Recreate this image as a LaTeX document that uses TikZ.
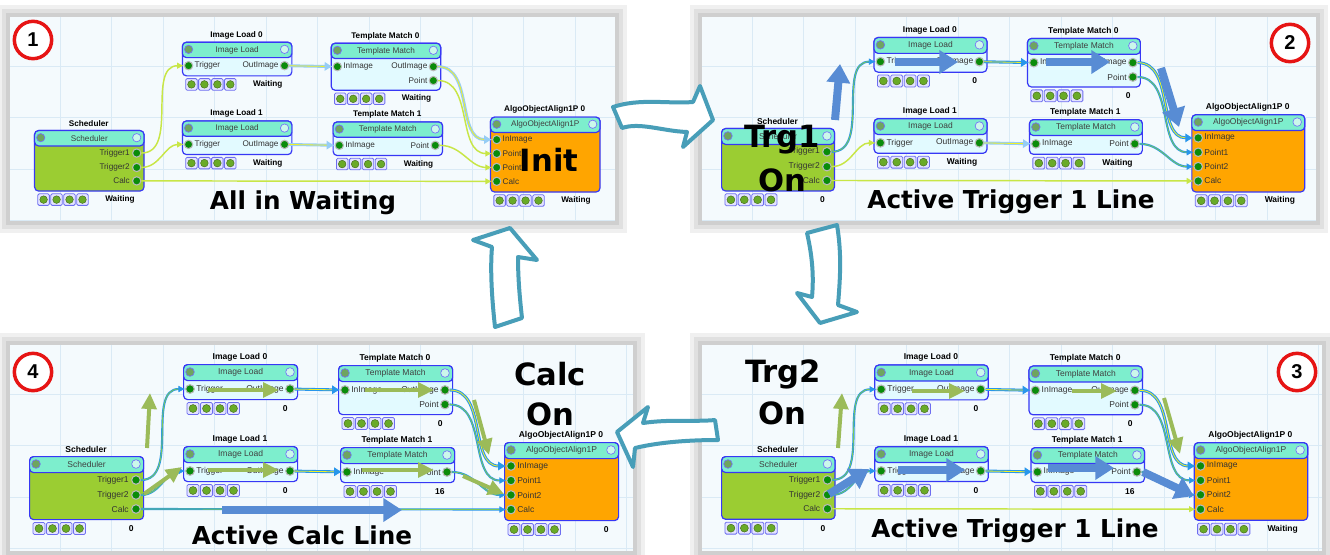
\documentclass[tikz,border=0pt]{standalone}
\usepackage{fontspec}
\setmainfont{Liberation Sans}
\newfontfamily\heavyfont{DejaVu Sans}
\usepackage{tikz}
\usetikzlibrary{arrows.meta}

\definecolor{panelbg}{RGB}{244,250,253}
\definecolor{gridcol}{RGB}{218,234,245}
\definecolor{blkblue}{RGB}{55,55,245}
\definecolor{hdrcol}{RGB}{125,238,205}
\definecolor{cyanbody}{RGB}{226,250,255}
\definecolor{schgreen}{RGB}{155,205,50}
\definecolor{algoorange}{RGB}{255,165,0}
\definecolor{portgreen}{RGB}{10,140,10}
\definecolor{idlecol}{RGB}{200,230,70}
\definecolor{actblue}{RGB}{40,150,235}
\definecolor{actgreen}{RGB}{120,200,90}
\definecolor{imgidle}{RGB}{150,205,245}
\definecolor{imgyel}{RGB}{240,240,40}
\definecolor{cyccol}{RGB}{72,158,184}
\definecolor{ovblue}{RGB}{88,140,212}
\definecolor{ovgreen}{RGB}{155,187,89}
\definecolor{numred}{RGB}{230,20,20}
\definecolor{btnblue}{RGB}{110,110,240}
\definecolor{btnfill}{RGB}{228,228,255}
\definecolor{btngreen}{RGB}{105,170,40}
\definecolor{iconfill}{RGB}{110,165,95}

\newcommand\uifont{\fontsize{6.4pt}{7pt}\selectfont}

% one block: name, left, top, height (px), body colour, header text, title
\newcommand\blk[7]{%
  \node[body, fill=#5, minimum height=#4*0.75pt] (#1) at (#2,#3) {};
  \node[head] (#1-h) at (#2,#3) {#6};
  \node[minus] (#1-m) at (#2+7,#3+8) {};
  \node[opt] (#1-o) at (#2+107,#3+8) {};
  \node[ttl] (#1-t) at (#2+57,#3-7) {#7};
}
% button row under a block: left, centre line, status, name
\newcommand\btns[4]{%
  \foreach \k in {0,...,3}{
    \node[btn] (#4-b\k) at (#1+10+13.5*\k,#2) {};
    \node[btnc] (#4-c\k) at (#1+10+13.5*\k,#2) {};
  }
  \node[stat] (#4-s) at (#1+105,#2) {#3};
}
% all blocks of a panel: prefix, then the six status texts
\newcommand\blocks[7]{%
  \blk{#1-sch}{0}{0}{63}{schgreen}{Scheduler}{Scheduler}
  \blk{#1-il0}{154}{-92}{35}{cyanbody}{Image Load}{Image Load 0}
  \blk{#1-il1}{154}{-10}{35}{cyanbody}{Image Load}{Image Load 1}
  \blk{#1-tm0}{309}{-91}{49}{cyanbody}{Template Match}{Template Match 0}
  \blk{#1-tm1}{311}{-9}{35}{cyanbody}{Template Match}{Template Match 1}
  \blk{#1-algo}{475}{-14}{78}{algoorange}{AlgoObjectAlign1P}{AlgoObjectAlign1P 0}
  % ports
  \node[port] (#1-sch-t1) at (107,24) {};
  \node[port] (#1-sch-t2) at (107,39) {};
  \node[port] (#1-sch-c)  at (107,53) {};
  \node[lblr] (#1-sch-l1) at (100,24) {Trigger1};
  \node[lblr] (#1-sch-l2) at (100,39) {Trigger2};
  \node[lblr] (#1-sch-l3) at (100,53) {Calc};
  \node[port] (#1-il0-in)  at (161,-67) {};
  \node[port] (#1-il0-out) at (261,-67) {};
  \node[lbll] (#1-il0-l1)  at (167,-67) {Trigger};
  \node[lblr] (#1-il0-l2)  at (255,-67) {OutImage};
  \node[port] (#1-il1-in)  at (161,15) {};
  \node[port] (#1-il1-out) at (261,15) {};
  \node[lbll] (#1-il1-l1)  at (167,15) {Trigger};
  \node[lblr] (#1-il1-l2)  at (255,15) {OutImage};
  \node[port] (#1-tm0-in)  at (316,-66) {};
  \node[port] (#1-tm0-out) at (416,-66) {};
  \node[port] (#1-tm0-pt)  at (416,-51.5) {};
  \node[lbll] (#1-tm0-l1)  at (322,-66) {InImage};
  \node[lblr] (#1-tm0-l2)  at (410,-66) {OutImage};
  \node[lblr] (#1-tm0-l3)  at (410,-51.5) {Point};
  \node[port] (#1-tm1-in)  at (318,16) {};
  \node[port] (#1-tm1-pt)  at (418,16) {};
  \node[lbll] (#1-tm1-l1)  at (324,16) {InImage};
  \node[lblr] (#1-tm1-l2)  at (412,16) {Point};
  \node[port] (#1-algo-in) at (482,10) {};
  \node[port] (#1-algo-p1) at (482,24.5) {};
  \node[port] (#1-algo-p2) at (482,39) {};
  \node[port] (#1-algo-c)  at (482,53.5) {};
  \node[lbll] (#1-algo-l1) at (488,10) {InImage};
  \node[lbll] (#1-algo-l2) at (488,24.5) {Point1};
  \node[lbll] (#1-algo-l3) at (488,39) {Point2};
  \node[lbll] (#1-algo-l4) at (488,53.5) {Calc};
  % button rows
  \btns{0}{72.5}{#2}{#1-sch}
  \btns{154}{-47.5}{#3}{#1-il0}
  \btns{154}{34.5}{#4}{#1-il1}
  \btns{309}{-32.5}{#5}{#1-tm0}
  \btns{311}{35.5}{#6}{#1-tm1}
  \btns{475}{73.5}{#7}{#1-algo}
}
% the eight links of a panel: prefix, then one style per link
\newcommand\wires[9]{%
  \draw[#2] (#1-sch-t1) to[out=0,in=180] (#1-il0-in);
  \draw[#3] (#1-sch-t2) to[out=0,in=180] (#1-il1-in);
  \draw[#4] (#1-sch-c) -- (#1-algo-c);
  \draw[#5] (#1-il0-out) -- (#1-tm0-in);
  \draw[#6] (#1-il1-out) -- (#1-tm1-in);
  \draw[#7] (#1-tm0-out) to[out=0,in=180] (#1-algo-in);
  \draw[#8] (#1-tm0-pt) to[out=0,in=180] (#1-algo-p1);
  \draw[#9] (#1-tm1-pt) to[out=0,in=180] (#1-algo-p2);
}

\begin{document}
\begin{tikzpicture}[x=0.75pt, y=-0.75pt,
    body/.style   = {anchor=north west, draw=blkblue, line width=0.9pt,
                     rounded corners=3pt, minimum width=85.5pt, inner sep=0pt},
    head/.style   = {anchor=north west, draw=blkblue, line width=0.9pt, fill=hdrcol,
                     rounded corners=3pt, minimum width=85.5pt, minimum height=12pt,
                     inner sep=0pt, font=\uifont, text=black!75},
    minus/.style  = {circle, draw=blkblue!70, line width=0.5pt, fill=iconfill,
                     minimum size=6.5pt, inner sep=0pt},
    opt/.style    = {circle, draw=blkblue!70, line width=0.5pt, fill=hdrcol!40!white,
                     minimum size=6.5pt, inner sep=0pt},
    ttl/.style    = {font=\uifont\bfseries, inner sep=0pt},
    port/.style   = {circle, draw=gray!55, line width=0.8pt, fill=portgreen,
                     minimum size=6.5pt, inner sep=0pt},
    lbll/.style   = {anchor=west, font=\uifont, text=black!80, inner sep=0pt},
    lblr/.style   = {anchor=east, font=\uifont, text=black!80, inner sep=0pt},
    btn/.style    = {draw=btnblue, line width=0.6pt, fill=btnfill, rounded corners=1pt,
                     minimum size=9pt, inner sep=0pt},
    btnc/.style   = {circle, draw=btngreen!60!black, line width=0.3pt, fill=btngreen,
                     minimum size=6pt, inner sep=0pt},
    stat/.style   = {anchor=east, font=\uifont\bfseries, inner sep=0pt},
    idle/.style   = {draw=idlecol, line width=1.1pt, -{Latex[length=5pt,width=5pt]}},
    act/.style    = {draw=actblue, double=actgreen, line width=0.5pt, double distance=0.6pt,
                     -{Latex[length=5pt,width=5pt]}},
    imgoff/.style = {draw=imgidle, double=imgyel, line width=0.8pt, double distance=0.6pt,
                     -{Latex[length=6pt,width=7pt]}},
    imgon/.style  = {draw=actblue, double=imgyel, line width=0.8pt, double distance=0.6pt,
                     -{Latex[length=6pt,width=7pt]}},
    gridline/.style = {draw=gridcol, line width=0.5pt},
    numc/.style   = {circle, draw=numred, line width=2.6pt, fill=white, minimum size=28pt,
                     inner sep=0pt, font=\fontsize{15pt}{15pt}\selectfont\bfseries},
    captxt/.style = {font=\heavyfont\bfseries\fontsize{18.5pt}{20pt}\selectfont},
    ovtxt/.style  = {font=\heavyfont\bfseries\fontsize{23pt}{24pt}\selectfont},
    bluearr/.style = {draw=ovblue, line width=6pt, -{Triangle[length=14pt,width=17pt]}},
    grnarr/.style  = {draw=ovgreen, line width=3pt, -{Triangle[length=12pt,width=11pt]}},
    cyc/.style    = {draw=cyccol, line width=3pt, fill=white, line join=round},
  ]
  \useasboundingbox (0,0) rectangle (1330,554);
  \fill[white] (0,0) rectangle (1330,554);

  % panel frames with shadow and grid
  \foreach \px/\py/\qx/\qy in {10/17/615/221, 702/17/1316/221, 702/345/1322/551, 10/345/633/551}{
    \fill[gray!12] (\px-12,\py-12) rectangle (\qx+12,\qy+12);
    \fill[gray!24] (\px-8,\py-8) rectangle (\qx+8,\qy+8);
    \fill[gray!38] (\px-4,\py-4) rectangle (\qx+4,\qy+4);
    \fill[panelbg] (\px,\py) rectangle (\qx,\qy);
    \begin{scope}
      \clip (\px,\py) rectangle (\qx,\qy);
      \foreach \gx in {50,101.5,...,650} \draw[gridline] (\px+\gx,\py) -- (\px+\gx,\qy);
      \foreach \gy in {49,100.5,...,220} \draw[gridline] (\px,\py+\gy) -- (\qx,\py+\gy);
    \end{scope}
  }

  % 1: all in waiting
  \begin{scope}[shift={(34,130)}, scale=0.96, transform shape]
    \blocks{a}{Waiting}{Waiting}{Waiting}{Waiting}{Waiting}{Waiting}
    \wires{a}{idle}{idle}{idle}{imgoff}{imgoff}{imgoff}{idle}{idle}
  \end{scope}
  % 2: trigger 1 on
  \begin{scope}[shift={(721,128)}, scale=0.99, transform shape]
    \blocks{b}{0}{0}{Waiting}{0}{Waiting}{Waiting}
    \wires{b}{act}{idle}{idle}{imgon}{imgoff}{imgon}{act}{act}
  \end{scope}
  % 3: trigger 2 on
  \begin{scope}[shift={(721,456)}, scale=0.995, transform shape]
    \blocks{c}{0}{0}{0}{0}{16}{Waiting}
    \wires{c}{act}{act}{idle}{imgon}{imgon}{imgon}{act}{act}
  \end{scope}
  % 4: calc on
  \begin{scope}[shift={(29,456)}, transform shape]
    \blocks{d}{0}{0}{0}{0}{16}{0}
    \wires{d}{act}{act}{act}{imgon}{imgon}{imgon}{act}{act}
  \end{scope}

  % step numbers
  \node[numc] (n1) at (33,40) {1};
  \node[numc] (n2) at (1290,43) {2};
  \node[numc] (n3) at (1297,372) {3};
  \node[numc] (n4) at (33,372) {4};

  % flow arrows drawn over the panels
  \draw[bluearr] (835,120) -- (840,64);
  \draw[bluearr] (895,62) -- (958,62);
  \draw[bluearr] (1046,62) -- (1110,62);
  \draw[bluearr] (1161,68) -- (1179,127);

  \draw[grnarr] (838,448) -- (842,393);
  \draw[grnarr] (912,391) -- (965,391);
  \draw[grnarr] (1072,391) -- (1117,391);
  \draw[grnarr] (1164,398) -- (1180,454);
  \draw[bluearr] (829,494) -- (869,469);
  \draw[bluearr] (898,470) -- (965,470);
  \draw[bluearr] (1048,468) -- (1114,468);
  \draw[bluearr] (1143,472) -- (1194,496);

  \draw[grnarr] (147,448) -- (150,393);
  \draw[grnarr] (144,494) -- (182,467);
  \draw[grnarr] (208,390) -- (279,390);
  \draw[grnarr] (208,470) -- (279,470);
  \draw[grnarr] (365,390) -- (434,390);
  \draw[grnarr] (362,470) -- (434,470);
  \draw[grnarr] (474,400) -- (489,455);
  \draw[grnarr] (463,476) -- (504,494);
  \draw[bluearr] (222,510) -- (402,510);

  % captions
  \node[captxt] (cap1) at (303,203) {All in Waiting};
  \node[captxt] (cap2) at (1011,202) {Active Trigger 1 Line};
  \node[captxt] (cap3) at (1015,531) {Active Trigger 1 Line};
  \node[captxt] (cap4) at (302,535) {Active Calc Line};
  \node[ovtxt] (init) at (549,160) {Init};
  \node[ovtxt] (trg1) at (782,140) {Trg1};
  \node[ovtxt] (on1)  at (782,180) {On};
  \node[ovtxt] (trg2) at (783,374) {Trg2};
  \node[ovtxt] (on2)  at (782,413) {On};
  \node[ovtxt] (calc) at (550,374) {Calc};
  \node[ovtxt] (on3)  at (550,414) {On};

  % cycle arrows between the panels
  \draw[cyc] (613,107) .. controls (640,98) and (668,104) .. (693,102) -- (700,86)
    -- (713,120) -- (683,147) -- (687,132) .. controls (662,131) and (640,122) .. (622,128) -- cycle;
  \draw[cyc] (807,233) -- (837,225) .. controls (842,255) and (840,280) .. (838,305)
    -- (857,312) -- (820,323) -- (797,293) -- (812,297) .. controls (814,275) and (812,255) .. cycle;
  \draw[cyc] (617,432) -- (648,407) -- (643,423) .. controls (670,419) and (695,422) .. (715,420)
    -- (718,440) .. controls (690,440) and (660,442) .. (635,448) -- (633,467) -- cycle;
  \draw[cyc] (510,228) -- (537,260) -- (518,257) .. controls (518,280) and (520,300) .. (522,318)
    -- (495,327) .. controls (492,300) and (490,270) .. (492,247) -- (473,240) -- cycle;
\end{tikzpicture}
\end{document}
